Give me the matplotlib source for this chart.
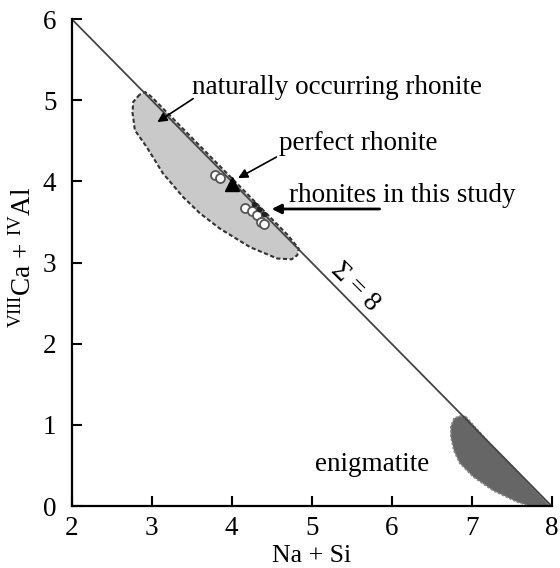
import numpy as np
import matplotlib.pyplot as plt
from matplotlib.patches import Polygon

plt.rcParams['font.family'] = ['Liberation Serif', 'DejaVu Serif']
plt.rcParams['mathtext.fontset'] = 'custom'
plt.rcParams['mathtext.rm'] = 'Liberation Serif'
plt.rcParams['mathtext.it'] = 'Liberation Serif:italic'

# Sigma = 8 line
line_x = [2, 8]
line_y = [6, 0]

# outline of natural rhonite field
rho_x = [2.85, 2.77, 2.76, 2.79, 2.94, 3.14, 3.39, 3.60, 3.85, 4.23, 4.57, 4.75, 4.82, 4.84,
         4.70, 4.40, 4.00, 3.60, 3.20, 3.00, 2.92]
rho_y = [5.07, 4.98, 4.85, 4.63, 4.42, 4.10, 3.81, 3.61, 3.42, 3.19, 3.05, 3.04, 3.09, 3.17,
         3.34, 3.64, 4.04, 4.44, 4.84, 5.04, 5.10]

# outline of enigmatite field
eni_x = [6.93, 6.85, 6.78, 6.74, 6.74, 6.78, 6.85, 7.02, 7.27, 7.57, 7.73, 7.98, 7.50, 7.20]
eni_y = [1.10, 1.11, 1.08, 0.98, 0.85, 0.68, 0.53, 0.36, 0.19, 0.05, 0.00, 0.00, 0.50, 0.80]

# rhonites in this study
study_x = [3.79, 3.85, 4.17, 4.25, 4.32, 4.37, 4.41]
study_y = [4.08, 4.04, 3.67, 3.64, 3.58, 3.50, 3.48]
dark_x = [4.28, 4.34, 4.40]
dark_y = [3.72, 3.66, 3.60]

# perfect rhonite
perf_x = [4.00]
perf_y = [3.97]

fs = 19.5
fig = plt.figure(figsize=(5.6, 5.68), dpi=100)
ax = fig.add_axes([0.128, 0.109, 0.857, 0.8575])

ax.add_patch(Polygon(np.column_stack([rho_x, rho_y]), closed=True, facecolor='#c9c9c9',
                     edgecolor='#333333', linestyle=(0, (2, 1.2)), linewidth=1.5, zorder=1))
ax.add_patch(Polygon(np.column_stack([eni_x, eni_y]), closed=True, facecolor='#666666',
                     edgecolor='#888888', linestyle=(0, (1.5, 1)), linewidth=1.2, zorder=1))

ax.plot(line_x, line_y, color='#444444', lw=1.3, zorder=2)
ax.plot(study_x, study_y, 'o', ms=6.5, mfc='white', mec='#555555', mew=1.3, zorder=3)
ax.plot(dark_x, dark_y, 'o', ms=3, color='#222222', zorder=3)
ax.plot(perf_x, perf_y, '^', ms=10, color='black', zorder=4)

arr = dict(arrowstyle='-|>', color='black', lw=1.2, mutation_scale=14, shrinkA=0, shrinkB=0)
ax.annotate('', xy=(3.07, 4.73), xytext=(3.52, 5.02), arrowprops=arr)
ax.text(3.50, 5.16, 'naturally occurring rhonite', fontsize=fs, ha='left', va='center')
ax.annotate('', xy=(4.08, 4.04), xytext=(4.56, 4.30), arrowprops=arr)
ax.text(4.595, 4.47, 'perfect rhonite', fontsize=fs, ha='left', va='center')
ax.annotate('', xy=(4.50, 3.66), xytext=(5.85, 3.66),
            arrowprops=dict(arrowstyle='-|>', color='black', lw=2, mutation_scale=14,
                            shrinkA=0, shrinkB=0))
ax.text(4.72, 3.83, 'rhonites in this study', fontsize=fs, ha='left', va='center')
ax.text(5.75, 0.51, 'enigmatite', fontsize=fs, ha='center', va='center')
ax.text(5.54, 2.70, r'$\Sigma$ = 8', fontsize=fs, ha='center', va='center',
        rotation=-45, rotation_mode='anchor')

ax.set_xlim(2, 8)
ax.set_ylim(0, 6)
ax.set_xticks([2, 3, 4, 5, 6, 7, 8])
ax.set_yticks([0, 1, 2, 3, 4, 5, 6])
ax.spines['top'].set_visible(False)
ax.spines['right'].set_visible(False)
for s in ['left', 'bottom']:
    ax.spines[s].set_linewidth(1.6)
ax.tick_params(direction='in', length=7, width=1.5, labelsize=fs)
ax.tick_params(axis='x', pad=7)
ax.tick_params(axis='y', pad=11)
ax.set_xlabel('Na + Si', fontsize=18.5)
ax.set_ylabel(r'$^{\mathrm{VIII}}$Ca + $^{\mathrm{IV}}$Al', fontsize=fs)
ax.xaxis.set_label_coords(0.5, -0.079)
ax.yaxis.set_label_coords(-0.074, 0.51)

fig.savefig('out.png', dpi=100)
